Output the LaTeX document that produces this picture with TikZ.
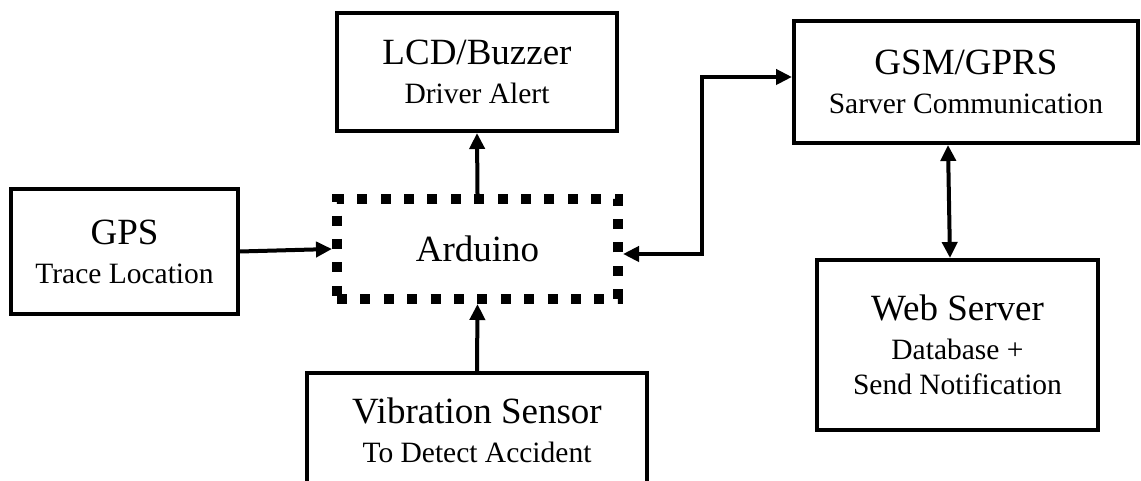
\documentclass[tikz,border=0pt]{standalone}
\usepackage{fontspec}
\setmainfont{Liberation Serif}
\usetikzlibrary{arrows.meta}
\newcommand{\ttl}{\fontsize{18.5}{22}\selectfont}
\newcommand{\lbl}{\fontsize{14.75}{17.5}\selectfont}
\tikzset{
  blk/.style={draw,line width=2pt,align=center,inner sep=0pt,font=\lbl},
  ardbox/.style={draw,line width=5pt,dash pattern=on 5pt off 6.7pt,inner sep=0pt,font=\ttl},
  conn/.style={line width=2pt,-{Triangle[length=8pt,width=7.5pt]}},
  both/.style={line width=2pt,{Triangle[length=8pt,width=7.5pt]}-{Triangle[length=8pt,width=7.5pt]}}
}
\begin{document}
\begin{tikzpicture}[x=0.5pt,y=0.5pt]
\useasboundingbox (0,0) rectangle (1141,481);
% blocks
\node[blk,minimum width=140pt,minimum height=59pt] (lcd) at (477,409) {{\ttl LCD/Buzzer}\\[2pt]Driver Alert};
\node[blk,minimum width=172pt,minimum height=61pt] (gsm) at (966,399) {{\ttl GSM/GPRS}\\[2pt]Sarver Communication};
\node[blk,minimum width=113.5pt,minimum height=62.5pt] (gps) at (124.5,229.5) {{\ttl GPS}\\[2pt]Trace Location};
\node[ardbox,minimum width=140.5pt,minimum height=50pt] (ard) at (477.5,232) {Arduino};
\node[blk,minimum width=170pt,minimum height=57pt] (vib) at (477,51) {{\ttl Vibration Sensor}\\[2pt]To Detect Accident};
\node[blk,minimum width=140.5pt,minimum height=85pt] (web) at (957.5,136) {{\ttl Web Server}\\[2pt]Database +\\Send Notification};
% links
\coordinate (ardR) at ([yshift=-2.5pt]ard.east);
\coordinate (gsmL) at ([yshift=2.5pt]gsm.west);
\coordinate (bend) at (702,0);
\draw[conn] (gps.east) -- (ard.west);
\draw[conn] (ard.north) -- (lcd.south);
\draw[conn] (vib.north) -- (ard.south);
\draw[both] (ardR) -- (ardR -| bend) |- (gsmL);
\draw[both] ([xshift=-9pt]gsm.south) -- ([xshift=-3.75pt]web.north);
\end{tikzpicture}
\end{document}
